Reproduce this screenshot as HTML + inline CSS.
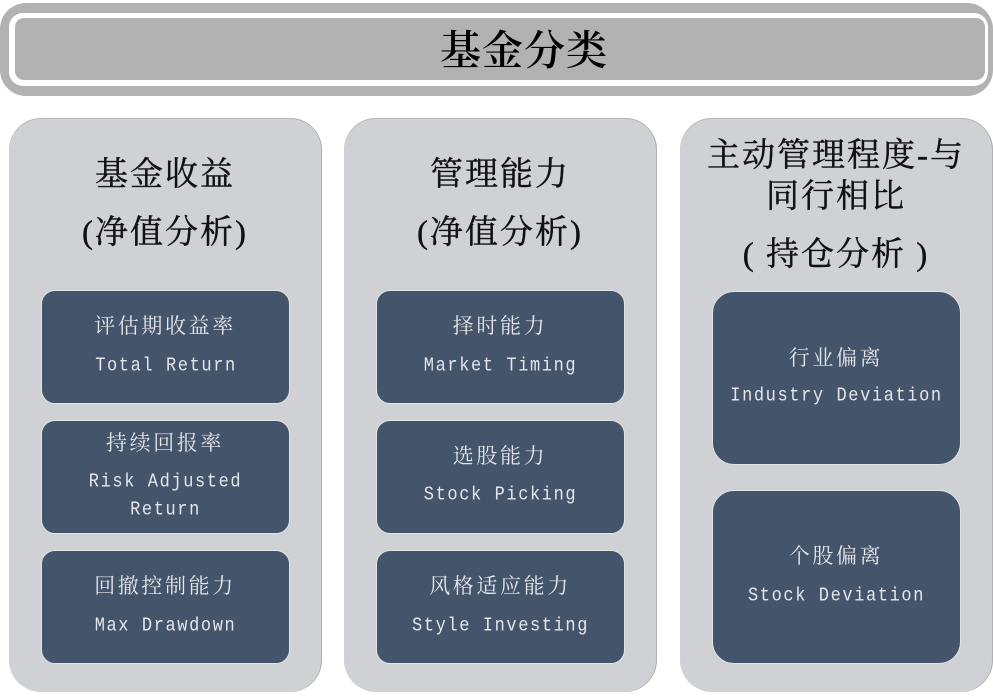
<!DOCTYPE html>
<html lang="zh"><head><meta charset="utf-8">
<style>
html,body{margin:0;padding:0;background:#fff;width:993px;height:696px;overflow:hidden}
div{position:absolute;box-sizing:border-box}
.t{white-space:nowrap;text-align:center;transform:translate(-50%,-50%);font-family:"Liberation Serif","Noto Serif CJK SC",serif}
.p{background:#d0d1d5;border-radius:32px;top:118px;height:574px;width:313px;box-shadow:inset -1px 0 0 #b0b0b4,inset 0 1px 0 #b8b8bc}
.b{background:#44546a;border:1.5px solid #e2e3e6;border-radius:14px;width:249px}
.big{border-radius:22px}
.h{color:#111;font-size:33px;letter-spacing:2px;line-height:40px;-webkit-text-stroke:.4px #111}
.c{color:#e4e6ea;font-size:21px;letter-spacing:2.6px;line-height:26px}
.e{color:#e4e6ea;font-family:"Liberation Mono",monospace;font-size:17px;letter-spacing:1.6px;line-height:24px;transform:translate(-50%,-50%) scaleY(1.15)}
</style></head><body>
<div style="left:0;top:3px;width:993px;height:93px;background:#b2b2b2;border-radius:26px"></div>
<div style="left:9px;top:13px;width:979px;height:73px;background:#fff;border-radius:14px"></div>
<div style="left:15px;top:18px;width:970px;height:62px;background:#b2b2b2;border-radius:9px"></div>
<div class="t" style="left:524px;top:47px;font-size:41px;letter-spacing:1px;color:#000;font-weight:600">基金分类</div>

<div class="p" style="left:9px"></div>
<div class="p" style="left:344px"></div>
<div class="p" style="left:680px"></div>

<div class="t h" style="left:165px;top:175px">基金收益</div>
<div class="t h" style="left:165px;top:233px">(净值分析)</div>
<div class="t h" style="left:500px;top:175px">管理能力</div>
<div class="t h" style="left:500px;top:233px">(净值分析)</div>
<div class="t h" style="left:836px;top:156px">主动管理程度-与</div>
<div class="t h" style="left:836px;top:197px">同行相比</div>
<div class="t h" style="left:836px;top:255px">( 持仓分析 )</div>

<div class="b" style="left:41px;top:290px;height:114px"></div>
<div class="b" style="left:41px;top:420px;height:114px"></div>
<div class="b" style="left:41px;top:550px;height:114px"></div>
<div class="b" style="left:376px;top:290px;height:114px"></div>
<div class="b" style="left:376px;top:420px;height:114px"></div>
<div class="b" style="left:376px;top:550px;height:114px"></div>
<div class="b big" style="left:712px;top:291px;height:174px"></div>
<div class="b big" style="left:712px;top:490px;height:174px"></div>

<div class="t c" style="left:165px;top:326px">评估期收益率</div>
<div class="t e" style="left:166px;top:367px">Total Return</div>
<div class="t c" style="left:165px;top:443px">持续回报率</div>
<div class="t e" style="left:165.5px;top:483px">Risk Adjusted</div>
<div class="t e" style="left:165.5px;top:511px">Return</div>
<div class="t c" style="left:165px;top:586px">回撤控制能力</div>
<div class="t e" style="left:165.5px;top:627px">Max Drawdown</div>

<div class="t c" style="left:500px;top:326px">择时能力</div>
<div class="t e" style="left:500.5px;top:367px">Market Timing</div>
<div class="t c" style="left:500px;top:456px">选股能力</div>
<div class="t e" style="left:500.5px;top:496px">Stock Picking</div>
<div class="t c" style="left:500px;top:586px">风格适应能力</div>
<div class="t e" style="left:500.5px;top:627px">Style Investing</div>

<div class="t c" style="left:836px;top:358px">行业偏离</div>
<div class="t e" style="left:836.5px;top:397px">Industry Deviation</div>
<div class="t c" style="left:836px;top:556px">个股偏离</div>
<div class="t e" style="left:836.5px;top:597px">Stock Deviation</div>
</body></html>
